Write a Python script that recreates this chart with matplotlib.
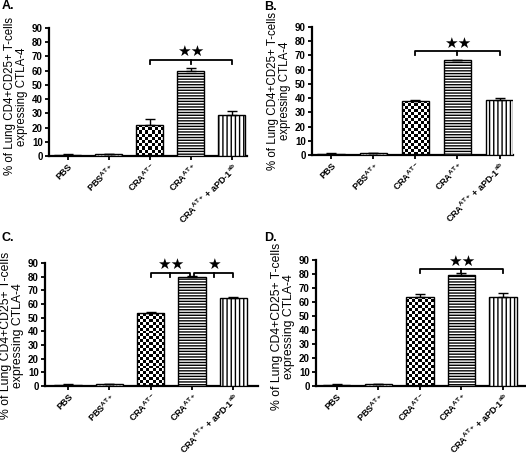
import numpy as np
import matplotlib
matplotlib.use("Agg")
import matplotlib.pyplot as plt

plt.rcParams['font.family'] = ['Liberation Sans', 'DejaVu Sans']
plt.rcParams['mathtext.fontset'] = 'custom'
plt.rcParams['mathtext.rm'] = 'Liberation Sans:bold'
plt.rcParams['mathtext.it'] = 'Liberation Sans:bold'
plt.rcParams['mathtext.bf'] = 'Liberation Sans:bold'
plt.rcParams['mathtext.default'] = 'rm'
plt.rcParams['hatch.linewidth'] = 1.0

categories = ['PBS', r'PBS$^{AT+}$', r'CRA$^{AT-}$', r'CRA$^{AT+}$', r'CRA$^{AT+}$ + aPD-1$^{ab}$']
panel_labels = ['A.', 'B.', 'C.', 'D.']
yticks = [0, 10, 20, 30, 40, 50, 60, 70, 80, 90]
ylabel = '% of Lung CD4+CD25+ T-cells\nexpressing CTLA-4'

values_A = [1.0, 1.5, 22.0, 60.0, 28.5]
errors_A = [0.2, 0.2, 4.0, 1.7, 3.2]
values_B = [1.0, 1.5, 38.0, 66.5, 39.0]
errors_B = [0.2, 0.2, 0.5, 0.5, 0.8]
values_C = [1.0, 1.5, 53.3, 79.6, 64.3]
errors_C = [0.2, 0.2, 0.5, 0.7, 0.6]
values_D = [1.0, 1.5, 63.8, 79.2, 63.3]
errors_D = [0.2, 0.2, 1.7, 1.7, 3.0]

# significance brackets: (start, end, level, stars)
sig_A = [(2, 4, 67.5, '★★')]
sig_B = [(2, 4, 73.0, '★★')]
sig_C = [(2, 2.95, 82.9, '★★'), (3.05, 4, 82.9, '★')]
sig_D = [(2, 4, 83.4, '★★')]

W, H = 526, 457
fig = plt.figure(figsize=(W / 100, H / 100), dpi=100)

# pixel layout: x0, x1, y90, y0, xlim
layouts = [
    (49, 247, 28, 156, (-0.46, 4.37)),
    (312, 513, 27, 155, (-0.46, 4.32)),
    (45, 258, 263, 386, (-0.56, 4.6)),
    (316, 525, 260, 386, (-0.5, 4.53)),
]
label_pos = [(2, 6), (264, 7), (2, 238), (264, 238)]
ylabel_size = [8.3, 8.3, 8.8, 8.8]
ylabel_y = [0.465, 0.5, 0.41, 0.47]

panels = [(values_A, errors_A, sig_A), (values_B, errors_B, sig_B),
          (values_C, errors_C, sig_C), (values_D, errors_D, sig_D)]

hatches = ['////////', '.....', None, '------', '||||']
bar_w = 0.66


def checker_bar(ax, x, h, width):
    # checkerboard fill for the bar
    ncols = 9
    rows = max(1, int(round(h / 90 * 128 / 3.0)))
    ii, jj = np.indices((rows, ncols))
    board = ((ii + jj) % 2).astype(float)
    im = ax.imshow(board, cmap='gray', vmin=0, vmax=1, interpolation='nearest',
                   extent=(x - width / 2, x + width / 2, 0, h), aspect='auto',
                   origin='lower', zorder=2)
    return im


for k, ((vals, errs, sigs), (x0, x1, y90, y0, xl)) in enumerate(zip(panels, layouts)):
    ax = fig.add_axes([x0 / W, 1 - y0 / H, (x1 - x0) / W, (y0 - y90) / H])
    xs = np.arange(len(categories))
    for i, (x, v) in enumerate(zip(xs, vals)):
        if i == 2:
            b = ax.bar(x, v, width=bar_w, facecolor='none', edgecolor='black', linewidth=1.0, zorder=3)
            im = checker_bar(ax, x, v, bar_w)
            im.set_clip_path(b.patches[0])
        elif i == 0:
            ax.bar(x, v, width=bar_w, facecolor='#333333', edgecolor='black', linewidth=1.0, zorder=3)
        else:
            ax.bar(x, v, width=bar_w, facecolor='white', edgecolor='black', linewidth=1.0,
                   hatch=hatches[i], zorder=3)
    ax.errorbar(xs, vals, yerr=[np.zeros(len(errs)), errs], fmt='none', ecolor='black',
                elinewidth=1.0, capsize=3.5, capthick=1.0, zorder=4)
    ax.set_xlim(*xl)
    ax.set_ylim(0, 90)
    ax.set_yticks(yticks)
    ax.set_yticklabels([str(t) for t in yticks], fontsize=7, fontweight='bold')
    ax.set_xticks(xs)
    ax.set_xticklabels(categories, rotation=45, ha='right', rotation_mode='anchor',
                       fontsize=6.5, fontweight='bold')
    for s in ['top', 'right']:
        ax.spines[s].set_visible(False)
    for s in ['left', 'bottom']:
        ax.spines[s].set_linewidth(1.6)
    ax.tick_params(direction='out', length=3, width=1.3, pad=1.5)
    ax.tick_params(axis='x', pad=1.0)
    ax.set_ylabel(ylabel, fontsize=ylabel_size[k], labelpad=2.5, linespacing=1.0)
    ax.yaxis.label.set_y(ylabel_y[k])
    for (a, b, lev, st) in sigs:
        drop = 3.0
        ax.plot([a, a, b, b], [lev - drop, lev, lev, lev - drop], color='black', lw=1.3,
                clip_on=False, zorder=5)
        m = (a + b) / 2
        ax.plot([m, m], [lev, lev - drop], color='black', lw=1.3, clip_on=False, zorder=5)
        ax.text(m, lev + 0.5, st, ha='center', va='bottom', fontsize=11,
                family=['DejaVu Sans'], clip_on=False)
    lx, ly = label_pos[k]
    fig.text(lx / W, 1 - ly / H, panel_labels[k], fontsize=9, fontweight='bold',
             ha='left', va='center')

fig.savefig('out.png', dpi=100)
